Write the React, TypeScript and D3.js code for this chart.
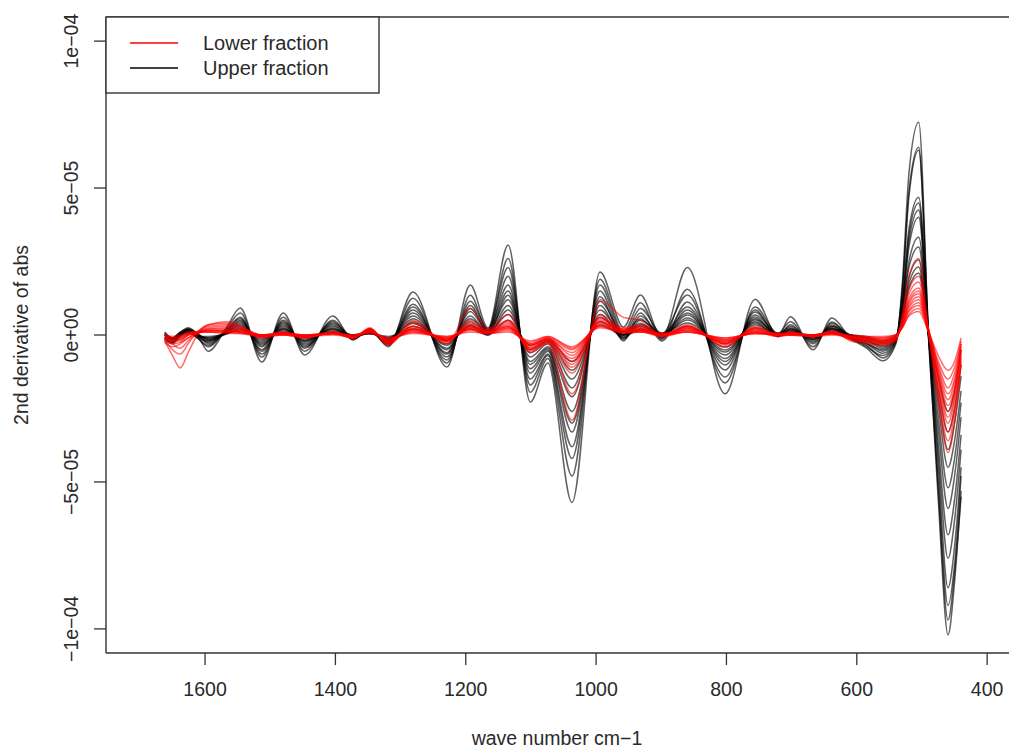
import React from "react";
import * as d3 from "d3";

// wavenumbers (cm-1) at which the curves were read
const KNOTS = [1662, 1650, 1638, 1626, 1612, 1595, 1566, 1546, 1513, 1480, 1447, 1404, 1373, 1347, 1319, 1281, 1229, 1193, 1166, 1135, 1101, 1074, 1037, 994, 958, 932, 899, 860, 802, 756, 721, 702, 667, 638, 610, 585, 560, 540, 530, 520, 505, 490, 475, 460, 450, 440];

// Upper fraction (black), values in 1e-5, one row per knot, one column per spectrum
const upperByKnot = [
  [0.0, -0.1, 0.05, -0.15, 0.0, -0.05, 0.1, -0.1, 0.0, 0.05, -0.1, 0.0],
  [-0.2, -0.25, -0.1, -0.3, -0.15, -0.2, -0.1, -0.25, -0.1, -0.15, -0.2, -0.1],
  [0.0, 0.05, 0.1, -0.05, 0.05, 0.0, 0.1, 0.0, 0.05, 0.0, 0.05, 0.0],
  [0.2, 0.15, 0.25, 0.1, 0.2, 0.15, 0.2, 0.1, 0.15, 0.1, 0.1, 0.05],
  [0.0, -0.1, 0.05, -0.1, 0.0, -0.05, 0.05, -0.05, 0.0, 0.0, -0.05, 0.0],
  [-0.55, -0.4, -0.3, -0.35, -0.2, -0.25, -0.15, -0.2, -0.1, -0.15, -0.05, -0.1],
  [0.3, 0.25, 0.2, 0.2, 0.15, 0.15, 0.1, 0.1, 0.1, 0.05, 0.05, 0.05],
  [0.92, 0.75, 0.6, 0.55, 0.5, 0.45, 0.4, 0.35, 0.3, 0.25, 0.2, 0.15],
  [-0.92, -0.75, -0.65, -0.55, -0.5, -0.4, -0.35, -0.3, -0.25, -0.2, -0.15, -0.1],
  [0.75, 0.6, 0.5, 0.45, 0.4, 0.35, 0.3, 0.25, 0.2, 0.2, 0.15, 0.1],
  [-0.68, -0.55, -0.45, -0.4, -0.35, -0.3, -0.25, -0.2, -0.2, -0.15, -0.1, -0.05],
  [0.65, 0.5, 0.45, 0.4, 0.35, 0.3, 0.25, 0.2, 0.2, 0.15, 0.1, 0.1],
  [-0.17, -0.1, -0.15, -0.05, -0.1, -0.05, -0.1, 0.0, -0.05, 0.0, -0.05, 0.0],
  [0.2, 0.15, 0.2, 0.1, 0.15, 0.1, 0.1, 0.1, 0.05, 0.05, 0.05, 0.05],
  [-0.4, -0.35, -0.3, -0.3, -0.25, -0.2, -0.2, -0.15, -0.15, -0.1, -0.1, -0.05],
  [1.46, 1.25, 1.05, 0.95, 0.85, 0.75, 0.65, 0.55, 0.45, 0.4, 0.3, 0.2],
  [-1.09, -0.95, -0.85, -0.75, -0.65, -0.6, -0.5, -0.45, -0.35, -0.3, -0.2, -0.15],
  [1.7, 1.35, 1.15, 1.0, 0.9, 0.8, 0.65, 0.55, 0.45, 0.35, 0.3, 0.2],
  [0.24, 0.15, 0.2, 0.1, 0.15, 0.1, 0.05, 0.1, 0.05, 0.0, 0.05, 0.0],
  [3.06, 2.6, 2.3, 2.0, 1.7, 1.5, 1.35, 1.2, 1.0, 0.85, 0.7, 0.5],
  [-2.28, -1.95, -1.7, -1.5, -1.3, -1.15, -1.0, -0.9, -0.75, -0.6, -0.5, -0.35],
  [-0.95, -0.8, -0.7, -0.65, -0.55, -0.5, -0.45, -0.4, -0.3, -0.25, -0.2, -0.15],
  [-5.7, -4.8, -4.2, -3.8, -3.3, -3.0, -2.6, -2.1, -1.8, -1.5, -1.2, -0.9],
  [2.14, 1.9, 1.7, 1.5, 1.3, 1.15, 1.0, 0.85, 0.7, 0.6, 0.45, 0.35],
  [0.27, 0.1, 0.0, -0.1, -0.2, 0.05, -0.15, 0.0, -0.1, 0.0, -0.05, 0.0],
  [1.36, 1.1, 0.9, 0.75, 0.65, 0.55, 0.5, 0.4, 0.35, 0.3, 0.2, 0.15],
  [-0.1, -0.15, 0.05, -0.2, 0.0, -0.1, 0.05, -0.05, 0.0, 0.0, 0.05, 0.0],
  [2.3, 1.56, 1.36, 1.12, 0.95, 0.85, 0.75, 0.68, 0.58, 0.51, 0.41, 0.3],
  [-2.0, -1.63, -1.43, -1.19, -1.02, -0.9, -0.8, -0.68, -0.58, -0.51, -0.41, -0.3],
  [1.22, 0.95, 0.85, 0.78, 0.68, 0.61, 0.55, 0.51, 0.45, 0.41, 0.35, 0.25],
  [-0.03, 0.05, -0.05, 0.0, 0.05, -0.05, 0.0, 0.05, 0.0, -0.05, 0.0, 0.05],
  [0.62, 0.45, 0.35, 0.3, 0.25, 0.2, 0.2, 0.15, 0.15, 0.1, 0.1, 0.05],
  [-0.5, -0.4, -0.3, -0.25, -0.2, -0.15, -0.15, -0.1, -0.1, -0.05, -0.05, 0.0],
  [0.58, 0.44, 0.4, 0.34, 0.3, 0.28, 0.24, 0.22, 0.2, 0.18, 0.15, 0.1],
  [-0.1, -0.15, -0.05, -0.1, 0.0, -0.05, -0.1, 0.0, -0.05, 0.0, -0.05, 0.0],
  [-0.45, -0.35, -0.4, -0.3, -0.25, -0.3, -0.2, -0.15, -0.2, -0.1, -0.1, -0.05],
  [-0.88, -0.78, -0.7, -0.62, -0.55, -0.5, -0.45, -0.4, -0.35, -0.3, -0.25, -0.2],
  [-0.3, -0.25, -0.2, -0.2, -0.15, -0.15, -0.1, -0.1, -0.1, -0.05, -0.05, 0.0],
  [1.8, 1.6, 1.5, 1.2, 1.1, 1.0, 0.9, 0.8, 0.75, 0.6, 0.55, 0.5],
  [5.5, 4.9, 4.7, 3.6, 3.4, 3.2, 3.0, 2.5, 2.3, 1.95, 1.75, 1.6],
  [7.24, 6.39, 6.29, 4.69, 4.49, 4.25, 4.01, 3.33, 2.99, 2.55, 2.31, 2.11],
  [0.0, 0.1, -0.1, 0.1, 0.0, 0.05, -0.05, 0.1, 0.0, 0.05, 0.0, 0.05],
  [-5.6, -5.3, -5.0, -4.5, -4.1, -3.7, -3.2, -2.8, -2.4, -2.1, -1.8, -1.4],
  [-10.2, -9.7, -9.2, -8.6, -7.6, -6.8, -5.9, -5.2, -4.5, -3.9, -3.3, -2.6],
  [-8.4, -8.1, -7.8, -7.2, -6.3, -5.6, -4.8, -4.2, -3.6, -3.0, -2.5, -1.9],
  [-5.3, -5.5, -4.8, -4.5, -3.9, -3.4, -2.8, -2.3, -1.9, -1.4, -1.0, -0.5],
];

// Lower fraction (red), values in 1e-5, one row per knot
const lowerByKnot = [
  [-0.2, -0.15, 0.0, -0.25, -0.1, 0.0, -0.2, -0.1, 0.0, -0.1, -0.15, 0.0],
  [-0.7, -0.5, -0.3, -0.4, -0.2, -0.1, -0.3, -0.15, -0.1, -0.2, -0.2, -0.05],
  [-1.12, -0.65, -0.45, -0.3, -0.2, -0.1, -0.25, -0.15, -0.05, -0.15, -0.1, 0.0],
  [-0.6, -0.3, -0.2, -0.1, 0.0, 0.05, -0.1, 0.0, 0.05, 0.0, 0.05, 0.1],
  [0.0, 0.1, 0.1, 0.1, 0.1, 0.1, 0.05, 0.1, 0.1, 0.05, 0.1, 0.1],
  [0.35, 0.35, 0.3, 0.25, 0.2, 0.15, 0.2, 0.15, 0.1, 0.15, 0.1, 0.1],
  [0.45, 0.4, 0.35, 0.3, 0.2, 0.15, 0.25, 0.15, 0.1, 0.15, 0.1, 0.05],
  [0.3, 0.3, 0.25, 0.2, 0.15, 0.1, 0.2, 0.1, 0.1, 0.1, 0.05, 0.05],
  [0.0, -0.05, 0.0, -0.05, 0.0, -0.05, -0.1, 0.0, -0.05, 0.0, -0.05, 0.0],
  [0.05, 0.1, 0.05, 0.05, 0.1, 0.05, 0.0, 0.05, 0.05, 0.0, 0.05, 0.0],
  [-0.05, -0.1, 0.0, -0.05, -0.05, 0.0, -0.1, -0.05, 0.0, -0.05, 0.0, -0.05],
  [0.05, 0.1, 0.05, 0.1, 0.05, 0.05, 0.1, 0.05, 0.05, 0.0, 0.05, 0.05],
  [-0.1, -0.05, -0.1, -0.1, -0.05, -0.05, -0.1, 0.0, -0.05, -0.05, 0.0, -0.05],
  [0.25, 0.2, 0.2, 0.15, 0.15, 0.1, 0.2, 0.1, 0.1, 0.15, 0.05, 0.1],
  [-0.35, -0.3, -0.3, -0.25, -0.2, -0.2, -0.25, -0.15, -0.15, -0.2, -0.1, -0.1],
  [0.4, 0.5, 0.3, 0.25, 0.2, 0.15, 0.3, 0.1, 0.15, 0.2, 0.1, 0.05],
  [-0.3, -0.25, -0.2, -0.2, -0.15, -0.1, -0.2, -0.1, -0.1, -0.15, -0.05, -0.05],
  [0.9, 0.5, 0.4, 0.35, 0.3, 0.25, 0.3, 0.2, 0.2, 0.25, 0.15, 0.1],
  [0.2, 0.15, 0.15, 0.1, 0.1, 0.1, 0.1, 0.05, 0.05, 0.1, 0.05, 0.05],
  [0.7, 0.5, 0.45, 0.4, 0.35, 0.3, 0.3, 0.25, 0.2, 0.25, 0.15, 0.1],
  [-0.6, -0.5, -0.55, -0.45, -0.4, -0.35, -0.45, -0.3, -0.35, -0.3, -0.25, -0.2],
  [-0.3, -0.2, -0.25, -0.15, -0.2, -0.1, -0.2, -0.1, -0.15, -0.1, -0.05, -0.05],
  [-2.9, -2.0, -1.3, -1.1, -1.0, -0.9, -0.8, -0.7, -0.6, -0.5, -0.45, -0.4],
  [1.2, 0.7, 0.6, 0.55, 0.5, 0.45, 0.45, 0.4, 0.35, 0.3, 0.3, 0.25],
  [0.6, 0.25, 0.2, 0.2, 0.15, 0.15, 0.1, 0.15, 0.1, 0.1, 0.05, 0.1],
  [0.5, 0.35, 0.3, 0.25, 0.25, 0.2, 0.2, 0.15, 0.15, 0.1, 0.1, 0.1],
  [0.0, -0.05, 0.0, 0.05, 0.0, -0.05, 0.0, 0.05, 0.0, 0.0, -0.05, 0.0],
  [0.35, 0.3, 0.3, 0.25, 0.25, 0.2, 0.2, 0.15, 0.15, 0.1, 0.1, 0.1],
  [-0.4, -0.35, -0.3, -0.3, -0.25, -0.25, -0.2, -0.2, -0.15, -0.15, -0.1, -0.1],
  [0.3, 0.25, 0.2, 0.2, 0.15, 0.15, 0.1, 0.1, 0.1, 0.05, 0.05, 0.05],
  [0.0, 0.05, 0.0, -0.05, 0.0, 0.05, 0.0, 0.0, -0.05, 0.0, 0.05, 0.0],
  [0.1, 0.05, 0.1, 0.05, 0.05, 0.05, 0.0, 0.05, 0.0, 0.05, 0.0, 0.0],
  [-0.05, 0.0, -0.05, -0.05, 0.0, -0.05, 0.0, -0.05, 0.0, 0.0, -0.05, 0.0],
  [0.15, 0.1, 0.1, 0.1, 0.05, 0.05, 0.1, 0.05, 0.05, 0.05, 0.0, 0.05],
  [-0.2, -0.15, -0.15, -0.1, -0.1, -0.1, -0.05, -0.1, -0.05, -0.05, -0.05, 0.0],
  [-0.3, -0.25, -0.2, -0.2, -0.15, -0.15, -0.15, -0.1, -0.1, -0.1, -0.05, -0.05],
  [-0.35, -0.3, -0.3, -0.25, -0.25, -0.2, -0.2, -0.15, -0.15, -0.1, -0.1, -0.05],
  [-0.2, -0.15, -0.15, -0.1, -0.1, -0.1, -0.05, -0.05, -0.05, 0.0, 0.0, 0.0],
  [0.7, 0.55, 0.5, 0.45, 0.4, 0.4, 0.35, 0.35, 0.3, 0.3, 0.25, 0.25],
  [2.0, 1.55, 1.4, 1.25, 1.15, 1.1, 1.0, 0.95, 0.85, 0.8, 0.7, 0.65],
  [2.6, 2.0, 1.8, 1.6, 1.5, 1.4, 1.3, 1.2, 1.1, 1.0, 0.9, 0.8],
  [0.1, 0.2, 0.1, 0.15, 0.1, 0.2, 0.1, 0.15, 0.2, 0.1, 0.15, 0.1],
  [-2.2, -2.0, -1.8, -1.6, -1.5, -1.4, -1.3, -1.2, -1.1, -1.0, -0.9, -0.7],
  [-4.0, -3.6, -3.3, -3.0, -2.8, -2.6, -2.4, -2.2, -2.0, -1.8, -1.5, -1.2],
  [-3.0, -2.7, -2.5, -2.2, -2.1, -1.9, -1.8, -1.6, -1.5, -1.3, -1.1, -0.9],
  [-1.0, -0.9, -0.8, -0.7, -0.6, -0.5, -0.5, -0.4, -0.3, -0.3, -0.2, -0.1],
];

const X_TICKS = [1600, 1400, 1200, 1000, 800, 600, 400];
const Y_TICKS = [-1e-4, -5e-5, 0, 5e-5, 1e-4];
const Y_TICK_LABELS = ["\u22121e\u221204", "\u22125e\u221205", "0e+00", "5e\u221205", "1e\u221204"];
const LEGEND_LABELS = ["Lower fraction", "Upper fraction"];
const X_TITLE = "wave number cm\u22121";
const Y_TITLE = "2nd derivative of abs";

const W = 1009;
const H = 749;
const LEFT = 106;
const RIGHT = 1008;
const TOP = 17;
const BOTTOM = 653;
const FONT = "'Liberation Sans', Arial, Helvetica, sans-serif";
const TXT = "#2a2a2a";

export default function App() {
  const x = d3.scaleLinear().domain([1752, 368]).range([LEFT, RIGHT]);
  const y = d3.scaleLinear().domain([-1.082e-4, 1.082e-4]).range([BOTTOM, TOP]);

  const line = d3
    .line<[number, number]>()
    .x((d) => x(d[0]))
    .y((d) => y(d[1] * 1e-5))
    .curve(d3.curveMonotoneX);

  const toPaths = (rows: number[][]) =>
    d3.transpose<number>(rows).map((vals) => line(vals.map((v, i) => [KNOTS[i], v] as [number, number])) || "");

  const upperPaths = toPaths(upperByKnot);
  const lowerPaths = toPaths(lowerByKnot);

  return (
    <svg
      width={W}
      height={H}
      viewBox={`0 0 ${W} ${H}`}
      style={{ position: "absolute", left: 0, top: 0, background: "#fff" }}
      fontFamily={FONT}
    >
      <rect x={0} y={0} width={W} height={H} fill="#fff" />
      <g fill="none" strokeWidth={1.5} strokeLinejoin="round">
        {upperPaths.map((p, i) => (
          <path key={"u" + i} d={p} stroke="#000" strokeOpacity={0.62} />
        ))}
        {lowerPaths.map((p, i) => (
          <path key={"l" + i} d={p} stroke="#ff0000" strokeOpacity={0.58} />
        ))}
      </g>

      {/* frame */}
      <g stroke="#333" strokeWidth={1.4} fill="none">
        <line x1={LEFT} y1={TOP} x2={W} y2={TOP} />
        <line x1={LEFT} y1={BOTTOM} x2={W} y2={BOTTOM} />
        <line x1={LEFT} y1={TOP} x2={LEFT} y2={BOTTOM} />
      </g>

      {/* x axis */}
      <g>
        {X_TICKS.map((t) => (
          <g key={t}>
            <line x1={x(t)} x2={x(t)} y1={BOTTOM} y2={BOTTOM + 12} stroke="#333" strokeWidth={1.3} />
            <text x={x(t)} y={BOTTOM + 43} textAnchor="middle" fontSize={19.5} fill={TXT}>
              {t}
            </text>
          </g>
        ))}
        <text x={(LEFT + RIGHT) / 2} y={745} textAnchor="middle" fontSize={19.5} fill={TXT}>
          {X_TITLE}
        </text>
      </g>

      {/* y axis */}
      <g>
        {Y_TICKS.map((t, i) => (
          <g key={t}>
            <line x1={LEFT - 12} x2={LEFT} y1={y(t)} y2={y(t)} stroke="#333" strokeWidth={1.3} />
            <text
              transform={`translate(${LEFT - 28},${y(t)}) rotate(-90)`}
              textAnchor="middle"
              fontSize={19.5}
              fill={TXT}
            >
              {Y_TICK_LABELS[i]}
            </text>
          </g>
        ))}
        <text
          transform={`translate(${28},${(TOP + BOTTOM) / 2}) rotate(-90)`}
          textAnchor="middle"
          fontSize={19.5}
          fill={TXT}
        >
          {Y_TITLE}
        </text>
      </g>

      {/* legend */}
      <g>
        <rect x={LEFT} y={TOP} width={273} height={76} fill="#fff" stroke="#333" strokeWidth={1.4} />
        <line x1={130} x2={178} y1={43} y2={43} stroke="#ff0000" strokeWidth={1.3} />
        <line x1={130} x2={178} y1={68} y2={68} stroke="#000" strokeWidth={1.3} />
        <text x={203} y={50} fontSize={20} fill={TXT}>
          {LEGEND_LABELS[0]}
        </text>
        <text x={203} y={75} fontSize={20} fill={TXT}>
          {LEGEND_LABELS[1]}
        </text>
      </g>
    </svg>
  );
}
